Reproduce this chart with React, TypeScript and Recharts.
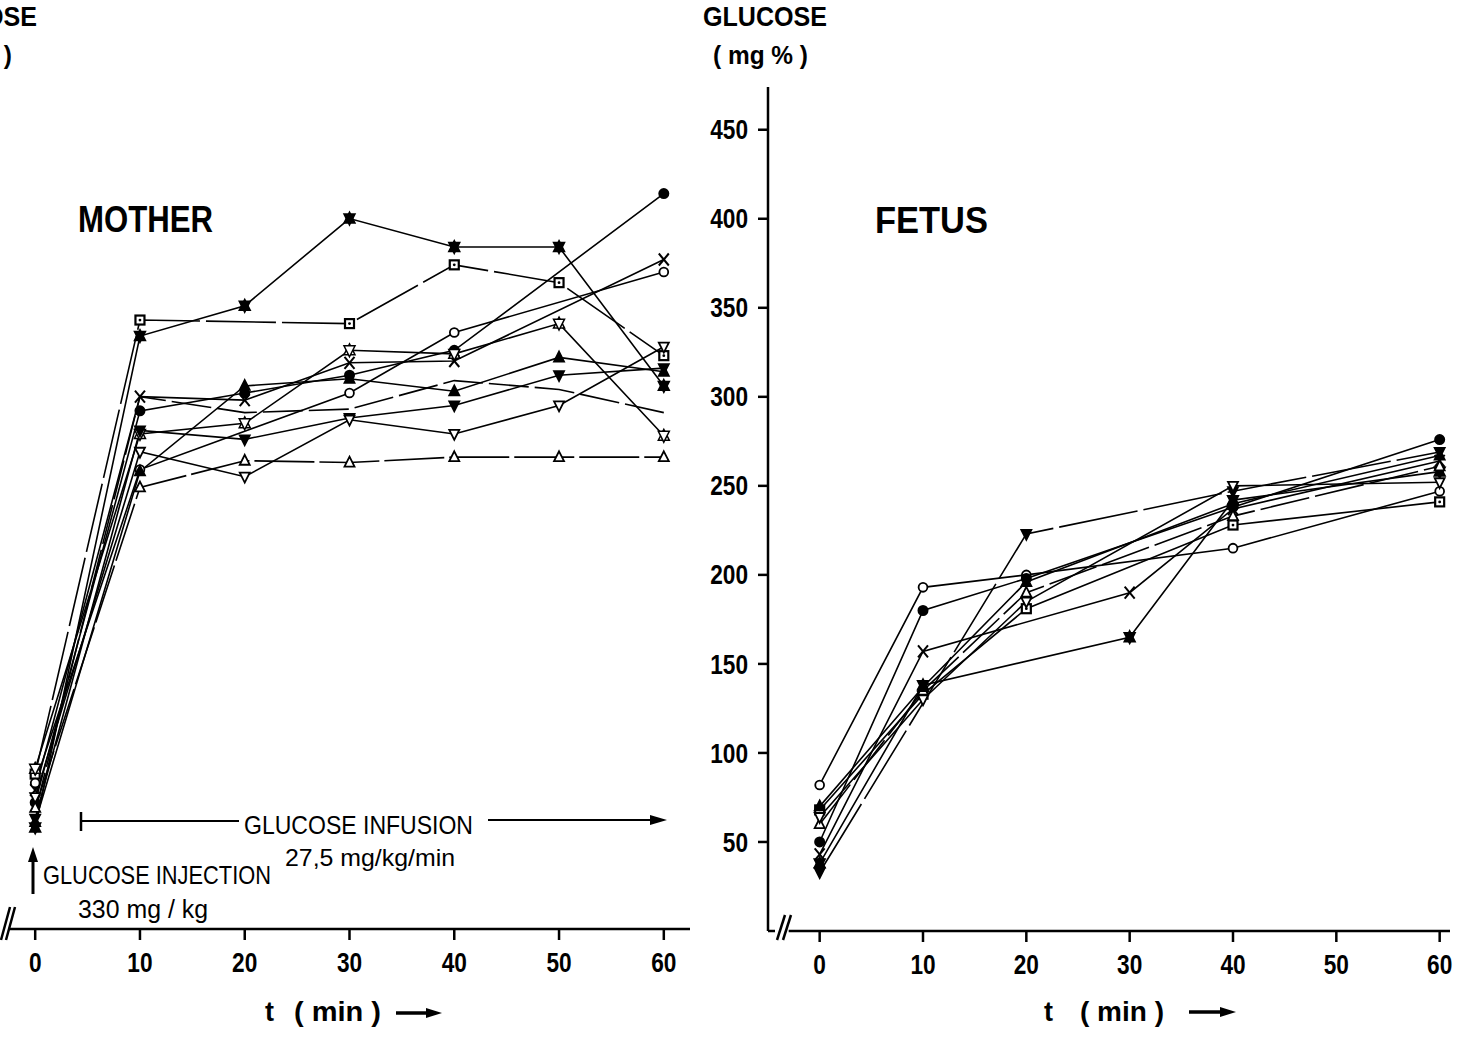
import React from "react";
import { LineChart, Line, XAxis, YAxis, ReferenceLine } from "recharts";

const FONT = "'Liberation Sans', Arial, sans-serif";

const TIMES = [0, 10, 20, 30, 40, 50, 60];
const X_TICKS = [0, 10, 20, 30, 40, 50, 60];
const Y_TICKS = [50, 100, 150, 200, 250, 300, 350, 400, 450];

// mother (maternal blood glucose, mg%)
const motherFilledStar = [57, 333, 350, 399, 383, 383, 305];
const motherSquare = [87, 342, null, 340, 373, 363, 322];
const motherFilledCircle = [71, 291, 301, 311, 325, null, 413];
const motherCross = [78, 299, 297, 318, 319, null, 376];
const motherOpenCircle = [82, 258, null, 301, 335, null, 369];
const motherOpenStar = [90, 278, 284, 325, 323, 340, 277];
const motherTriUpFilled = [60, 257, 305, 309, 302, 321, 313];
const motherTriDownFilled = [62, 280, 275, 287, 294, 311, 315];
const motherTriDownOpen = [74, 268, 254, 286, 278, 294, 327];
const motherTriUpOpen = [68, 248, 263, 262, 265, 265, 265];
const motherPlain = [66, 299, 290, 292, 308, 303, 290];

// fetus
const fetusOpenCircle = [82, 193, 200, null, 215, null, 247];
const fetusFilledCircle = [50, 180, 198, null, 238, null, 276];
const fetusTriDownFilled = [33, null, 223, null, 247, null, 269];
const fetusCross = [43, 157, null, 190, 237, null, 264];
const fetusFilledStar = [38, 138, null, 165, 242, null, 258];
const fetusSquare = [68, 133, 181, null, 228, null, 241];
const fetusTriUpOpen = [60, 135, 190, null, 233, null, 261];
const fetusTriDownOpen = [64, 130, 185, null, 250, null, 252];
const fetusTriUpFilled = [70, 137, 196, null, 240, null, 267];

type Shape =
  | "filledCircle" | "openCircle" | "cross" | "filledStar" | "openStar"
  | "square" | "triUp" | "triUpFilled" | "triDown" | "triDownFilled" | "none";

interface Series { key: string; values: (number | null)[]; shape: Shape; dash?: string }

const motherSeries: Series[] = [
  { key: "m1", values: motherFilledStar, shape: "filledStar" },
  { key: "m2", values: motherSquare, shape: "square", dash: "70 6" },
  { key: "m3", values: motherFilledCircle, shape: "filledCircle" },
  { key: "m4", values: motherCross, shape: "cross" },
  { key: "m5", values: motherOpenCircle, shape: "openCircle" },
  { key: "m6", values: motherOpenStar, shape: "openStar" },
  { key: "m7", values: motherTriUpFilled, shape: "triUpFilled" },
  { key: "m8", values: motherTriDownFilled, shape: "triDownFilled" },
  { key: "m9", values: motherTriDownOpen, shape: "triDown" },
  { key: "m10", values: motherTriUpOpen, shape: "triUp", dash: "60 5" },
  { key: "m11", values: motherPlain, shape: "none", dash: "40 6" },
];

const fetusSeries: Series[] = [
  { key: "f1", values: fetusOpenCircle, shape: "openCircle" },
  { key: "f2", values: fetusFilledCircle, shape: "filledCircle" },
  { key: "f3", values: fetusTriDownFilled, shape: "triDownFilled", dash: "80 6" },
  { key: "f4", values: fetusCross, shape: "cross" },
  { key: "f5", values: fetusFilledStar, shape: "filledStar" },
  { key: "f6", values: fetusSquare, shape: "square" },
  { key: "f7", values: fetusTriUpOpen, shape: "triUp", dash: "50 6" },
  { key: "f8", values: fetusTriDownOpen, shape: "triDown" },
  { key: "f9", values: fetusTriUpFilled, shape: "triUpFilled" },
];

const buildData = (series: Series[]) =>
  TIMES.map((t, i) => {
    const row: Record<string, number | null> = { t };
    series.forEach((s) => (row[s.key] = s.values[i]));
    return row;
  });

const motherData = buildData(motherSeries);
const fetusData = buildData(fetusSeries);

const tri = (cx: number, cy: number, s: number, up: boolean) => {
  const h = s * 0.9;
  return up
    ? `${cx},${cy - h * 0.65} ${cx + s / 2},${cy + h * 0.45} ${cx - s / 2},${cy + h * 0.45}`
    : `${cx},${cy + h * 0.65} ${cx + s / 2},${cy - h * 0.45} ${cx - s / 2},${cy - h * 0.45}`;
};

const marker = (shape: Shape) => (props: any) => {
  const { cx, cy, index } = props;
  const k = `${shape}-${index}`;
  if (cx == null || cy == null || shape === "none") return <g key={k} />;
  const st = { stroke: "#000", strokeWidth: 1.8 };
  switch (shape) {
    case "filledCircle":
      return <circle key={k} cx={cx} cy={cy} r={4.6} fill="#000" {...st} />;
    case "openCircle":
      return <circle key={k} cx={cx} cy={cy} r={4.4} fill="#fff" {...st} />;
    case "cross":
      return (
        <g key={k} {...st} strokeWidth={2}>
          <line x1={cx - 5} y1={cy - 6} x2={cx + 5} y2={cy + 6} />
          <line x1={cx + 5} y1={cy - 6} x2={cx - 5} y2={cy + 6} />
        </g>
      );
    case "square":
      return (
        <g key={k}>
          <rect x={cx - 4.5} y={cy - 4.5} width={9} height={9} fill="#fff" {...st} strokeWidth={2.2} />
          <circle cx={cx} cy={cy} r={1.4} fill="#000" />
        </g>
      );
    case "filledStar":
    case "openStar": {
      const fill = shape === "filledStar" ? "#000" : "#fff";
      return (
        <g key={k} fill={fill} {...st} strokeWidth={1.5}>
          <polygon points={tri(cx, cy, 11, true)} />
          <polygon points={tri(cx, cy, 11, false)} />
        </g>
      );
    }
    case "triUp":
      return <polygon key={k} points={tri(cx, cy, 10, true)} fill="#fff" {...st} />;
    case "triUpFilled":
      return <polygon key={k} points={tri(cx, cy, 10, true)} fill="#000" {...st} />;
    case "triDown":
      return <polygon key={k} points={tri(cx, cy, 10, false)} fill="#fff" {...st} />;
    case "triDownFilled":
      return <polygon key={k} points={tri(cx, cy, 10, false)} fill="#000" {...st} />;
  }
  return <g key={k} />;
};

// narrow (condensed look) tick labels
const XTick = (props: any) => {
  const { x, y, payload } = props;
  return (
    <text
      transform={`translate(${x} ${y}) scale(0.84 1)`}
      dy="0.71em"
      textAnchor="middle"
      fontSize={27}
      fontWeight={700}
      fontFamily={FONT}
      fill="#000"
    >
      {payload.value}
    </text>
  );
};

const YTick = (props: any) => {
  const { x, y, payload } = props;
  return (
    <text
      transform={`translate(${x} ${y}) scale(0.84 1)`}
      dy="0.355em"
      textAnchor="end"
      fontSize={27}
      fontWeight={700}
      fontFamily={FONT}
      fill="#000"
    >
      {payload.value}
    </text>
  );
};

const renderLines = (series: Series[]) =>
  series.map((s) => (
    <Line
      key={s.key}
      dataKey={s.key}
      type="linear"
      stroke="#000"
      strokeWidth={1.6}
      strokeDasharray={s.dash}
      connectNulls
      dot={marker(s.shape)}
      activeDot={false}
      isAnimationActive={false}
    />
  ));

function MotherChart() {
  return (
    <LineChart width={700} height={1060} data={motherData} margin={{ top: 85, right: 10, left: 9, bottom: 71 }}>
      <XAxis
        dataKey="t"
        type="number"
        domain={[-2.5, 62.5]}
        ticks={X_TICKS}
        height={60}
        tickSize={11}
        tickMargin={13}
        axisLine={{ stroke: "#000", strokeWidth: 2.5 }}
        tickLine={{ stroke: "#000", strokeWidth: 2.5 }}
        tick={<XTick />}
      />
      <YAxis hide type="number" domain={[0, 474]} />
      {renderLines(motherSeries)}
    </LineChart>
  );
}

function FetusChart() {
  return (
    <LineChart width={758} height={1060} data={fetusData} margin={{ top: 87, right: 8, left: 8, bottom: 69 }}>
      <XAxis
        dataKey="t"
        type="number"
        domain={[-5, 61]}
        ticks={X_TICKS}
        height={60}
        tickSize={11}
        tickMargin={13}
        axisLine={false}
        tickLine={{ stroke: "#000", strokeWidth: 2.5 }}
        tick={<XTick />}
      />
      <YAxis
        type="number"
        domain={[0, 474]}
        ticks={Y_TICKS}
        width={60}
        tickSize={10}
        tickMargin={10}
        axisLine={{ stroke: "#000", strokeWidth: 2.5 }}
        tickLine={{ stroke: "#000", strokeWidth: 2.5 }}
        tick={<YTick />}
      />
      <ReferenceLine
        segment={[{ x: -3, y: 0 }, { x: 61, y: 0 }]}
        stroke="#000"
        strokeWidth={2.5}
        ifOverflow="visible"
      />
      {renderLines(fetusSeries)}
    </LineChart>
  );
}

const Arrow = ({ x1, x2, y }: { x1: number; x2: number; y: number }) => (
  <g>
    <line x1={x1} y1={y} x2={x2 - 12} y2={y} stroke="#000" strokeWidth={3.5} />
    <polygon points={`${x2 - 16},${y - 5} ${x2},${y} ${x2 - 16},${y + 5}`} fill="#000" />
  </g>
);

// text squeezed to the width it has in the reference
const T = ({ x, y, w, size, bold, children }: { x: number; y: number; w: number; size: number; bold?: boolean; children: string }) => (
  <text
    x={x}
    y={y}
    fontSize={size}
    fontWeight={bold ? 700 : 400}
    fontFamily={FONT}
    fill="#000"
    textLength={w}
    lengthAdjust="spacingAndGlyphs"
  >
    {children}
  </text>
);

function Overlay() {
  return (
    <svg width={1458} height={1060} style={{ position: "absolute", left: 0, top: 0, pointerEvents: "none" }}>
      {/* axis titles (left one runs off the page, as in the scan) */}
      <T x={-87} y={26} w={124} size={27} bold>GLUCOSE</T>
      <T x={-83} y={64} w={95} size={25} bold>( mg % )</T>
      <T x={703} y={26} w={124} size={27} bold>GLUCOSE</T>
      <T x={713} y={64} w={95} size={25} bold>( mg % )</T>

      {/* panel titles */}
      <T x={78} y={232} w={135} size={37} bold>MOTHER</T>
      <T x={875} y={233} w={113} size={37} bold>FETUS</T>

      {/* x titles */}
      <T x={265} y={1021} w={9} size={28} bold>t</T>
      <T x={294} y={1021} w={87} size={28} bold>( min )</T>
      <Arrow x1={396} x2={442} y={1013} />
      <T x={1044} y={1021} w={9} size={28} bold>t</T>
      <T x={1080} y={1021} w={84} size={28} bold>( min )</T>
      <Arrow x1={1189} x2={1236} y={1012} />

      {/* infusion annotation */}
      <line x1={81} y1={812} x2={81} y2={831} stroke="#000" strokeWidth={2.5} />
      <line x1={81} y1={821} x2={239} y2={821} stroke="#000" strokeWidth={2} />
      <T x={244} y={834} w={229} size={25}>GLUCOSE INFUSION</T>
      <line x1={488} y1={820} x2={655} y2={820} stroke="#000" strokeWidth={2} />
      <polygon points={`650,815 667,820 650,825`} fill="#000" />
      <T x={285} y={866} w={170} size={24}>27,5 mg/kg/min</T>

      {/* injection annotation */}
      <line x1={33} y1={894} x2={33} y2={858} stroke="#000" strokeWidth={3} />
      <polygon points={`28,862 33,847 38,862`} fill="#000" />
      <T x={43} y={884} w={228} size={25}>GLUCOSE INJECTION</T>
      <T x={78} y={918} w={130} size={25}>330 mg / kg</T>

      {/* axis breaks */}
      <line x1={10} y1={907} x2={1} y2={940} stroke="#000" strokeWidth={2.5} />
      <line x1={15} y1={907} x2={6} y2={940} stroke="#000" strokeWidth={2.5} />
      <line x1={768} y1={931} x2={775} y2={931} stroke="#000" strokeWidth={2.5} />
      <line x1={785} y1={915} x2={777} y2={940} stroke="#000" strokeWidth={2.5} />
      <line x1={791} y1={915} x2={783} y2={940} stroke="#000" strokeWidth={2.5} />
    </svg>
  );
}

export default function App() {
  return (
    <div style={{ position: "fixed", left: 0, top: 0, width: 1458, height: 1060, overflow: "hidden", background: "#fff" }}>
      <div style={{ position: "absolute", left: 0, top: 0 }}>
        <MotherChart />
      </div>
      <div style={{ position: "absolute", left: 700, top: 0 }}>
        <FetusChart />
      </div>
      <Overlay />
    </div>
  );
}
